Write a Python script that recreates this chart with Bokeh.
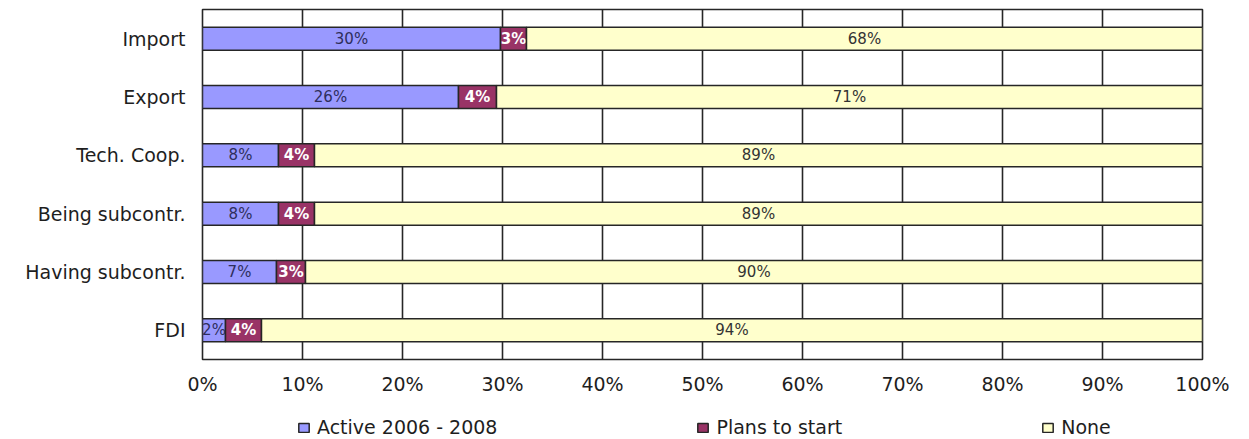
from bokeh.plotting import figure
from bokeh.layouts import column
from bokeh.models import (ColumnDataSource, FactorRange, Range1d, FixedTicker,
                          Legend, LegendItem)
from bokeh.core.properties import value
from bokeh.embed import file_html
from bokeh.resources import INLINE

# Share of firms by internationalisation activity (percent)
categories = ["Import", "Export", "Tech. Coop.", "Being subcontr.",
              "Having subcontr.", "FDI"]
active = [29.8, 25.6, 7.6, 7.6, 7.4, 2.3]
plans = [2.6, 3.8, 3.6, 3.6, 2.9, 3.6]
none = [67.6, 70.6, 88.8, 88.8, 89.7, 94.1]
series_names = ["Active 2006 - 2008", "Plans to start", "None"]
tick_values = [0, 10, 20, 30, 40, 50, 60, 70, 80, 90, 100]
tick_labels = ["0%", "10%", "20%", "30%", "40%", "50%", "60%", "70%",
               "80%", "90%", "100%"]

colors = ["#9999FF", "#993366", "#FFFFCC"]
label_colors = ["#2E2E5C", "#FFFFFF", "#333333"]
label_styles = ["normal", "bold", "normal"]
FONT = "DejaVu Sans"
EDGE = "#262626"

p = figure(width=1249, height=399, output_backend="svg", toolbar_location=None,
           y_range=FactorRange(*reversed(categories)), x_range=Range1d(0, 100),
           min_border_left=202, min_border_right=47, min_border_top=9,
           min_border_bottom=40)

p.outline_line_color = EDGE
p.outline_line_width = 1.6
p.background_fill_color = "white"

p.xgrid.ticker = FixedTicker(ticks=tick_values)
p.xgrid.grid_line_color = EDGE
p.xgrid.grid_line_width = 1.6
p.ygrid.grid_line_color = None

for ax in (p.xaxis[0], p.yaxis[0]):
    ax.axis_line_color = None
    ax.major_tick_line_color = None
    ax.minor_tick_line_color = None
    ax.major_label_text_font = FONT
    ax.major_label_text_font_size = "19px"
    ax.major_label_text_color = "#1E1E1E"

p.yaxis.major_label_standoff = 11
p.xaxis.major_label_standoff = 7
p.xaxis.ticker = FixedTicker(ticks=tick_values)
p.xaxis.major_label_overrides = {v: t for v, t in zip(tick_values, tick_labels)}

# stacked segments: left/right edges from cumulative sums
series = [active, plans, none]
lefts = [0.0] * len(categories)
for vals, col, lcol, lstyle in zip(series, colors, label_colors, label_styles):
    rights = [l + v for l, v in zip(lefts, vals)]
    src = ColumnDataSource(dict(
        cat=categories, left=lefts, right=rights,
        mid=[(l + r) / 2 for l, r in zip(lefts, rights)],
        txt=[f"{int(v + 0.5)}%" for v in vals]))
    p.hbar(y="cat", left="left", right="right", height=0.395, source=src,
           fill_color=col, line_color=EDGE, line_width=1.5)
    p.text(x="mid", y="cat", text="txt", source=src, text_align="center",
           text_baseline="middle", text_font=value(FONT),
           text_font_size="15px", text_font_style=lstyle, text_color=lcol)
    lefts = rights

# legend strip underneath the chart (its frame lines up with the chart's)
leg = figure(width=1249, height=40, output_backend="svg", toolbar_location=None,
             x_range=Range1d(0, 1), y_range=Range1d(0, 1),
             min_border=0, outline_line_color=None,
             border_fill_color="white", background_fill_color="white")
leg.axis.visible = False
leg.grid.visible = False
items = []
for name, col in zip(series_names, colors):
    # hidden swatch renderer: only its legend entry is shown
    r = leg.hbar(y=[0.5], left=[0], right=[1], height=0.2, fill_color=col,
                 line_color=EDGE, line_width=1.5, visible=False)
    items.append(LegendItem(label=name, renderers=[r]))

legend = Legend(items=items, orientation="horizontal", location=(95, 1),
                spacing=199, glyph_width=13, glyph_height=11,
                label_standoff=7, padding=0, margin=0,
                label_text_font=FONT, label_text_font_size="19px",
                label_text_color="#1E1E1E", border_line_color=None,
                background_fill_alpha=0, inactive_fill_alpha=0)
leg.add_layout(legend, "center")

layout = column(p, leg, spacing=0)
open("out.html", "w").write(file_html(layout, INLINE))
